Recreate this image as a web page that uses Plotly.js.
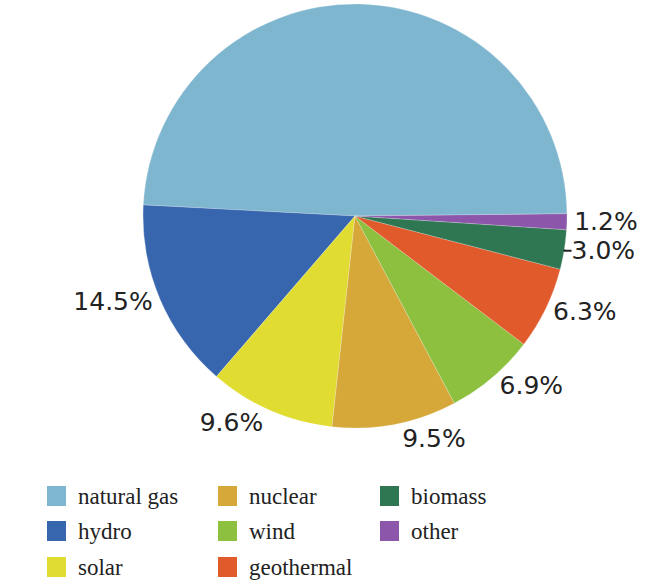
<!DOCTYPE html>
<html>
<head>
<meta charset="utf-8">
<script src="https://cdn.plot.ly/plotly-3.0.1.min.js"></script>
<style>
  html, body { margin: 0; padding: 0; background: #fff; }
  #chart { width: 668px; height: 586px; }
</style>
</head>
<body>
<div id="chart"></div>
<script>
// energy sources, in slice order (counterclockwise from the right)
const sources = ["natural gas", "hydro", "solar", "nuclear", "wind", "geothermal", "biomass", "other"];
const shares = [49.0, 14.5, 9.6, 9.5, 6.9, 6.3, 3.0, 1.2];
const colors = ["#7eb6cf", "#3866ae", "#e0dc32", "#d6a83a", "#8cc03e", "#e05a2c", "#2f7652", "#8c56aa"];

// legend is laid out column by column, 3 rows
const legendCols = [
  ["natural gas", "hydro", "solar"],
  ["nuclear", "wind", "geothermal"],
  ["biomass", "other"],
];

const W = 668, H = 586;
const cx = 355, cy = 216, r = 212;

// natural gas gets no label on the chart
const labelTemplates = shares.map((v, i) => (i === 0 ? "" : "%{value:.1f}%"));

const data = [
  {
    type: "pie",
    labels: sources,
    values: shares,
    sort: false,
    direction: "counterclockwise",
    rotation: -87,
    texttemplate: labelTemplates,
    textposition: "outside",
    outsidetextfont: { family: "DejaVu Sans", size: 25, color: "#222" },
    marker: {
      colors: colors,
      line: { color: "rgba(255,255,255,0.35)", width: 0.6 },
    },
    domain: {
      x: [(cx - r) / W, (cx + r) / W],
      y: [1 - (cy + r) / H, 1 - (cy - r) / H],
    },
    hoverinfo: "label+percent",
    showlegend: false,
  },
];

// hand-made legend: swatch + label per entry
const shapes = [];
const annotations = [];
const colX = [47, 218, 380];
const rowY = [496, 531, 567];
legendCols.forEach((col, c) => {
  col.forEach((name, rr) => {
    const idx = sources.indexOf(name);
    const x0 = colX[c], y0 = rowY[rr];
    shapes.push({
      type: "rect",
      xref: "paper", yref: "paper",
      x0: x0 / W, x1: (x0 + 19) / W,
      y0: 1 - (y0 + 10) / H, y1: 1 - (y0 - 10) / H,
      fillcolor: colors[idx],
      line: { width: 0 },
    });
    annotations.push({
      xref: "paper", yref: "paper",
      x: (x0 + 29) / W, y: 1 - y0 / H,
      xanchor: "left", yanchor: "middle",
      text: name,
      showarrow: false,
      font: { family: "Liberation Serif", size: 23, color: "#222" },
    });
  });
});

const layout = {
  width: W,
  height: H,
  margin: { l: 0, r: 0, t: 0, b: 0 },
  paper_bgcolor: "#fff",
  showlegend: false,
  shapes: shapes,
  annotations: annotations,
};

Plotly.newPlot("chart", data, layout, { displayModeBar: false });
</script>
</body>
</html>
